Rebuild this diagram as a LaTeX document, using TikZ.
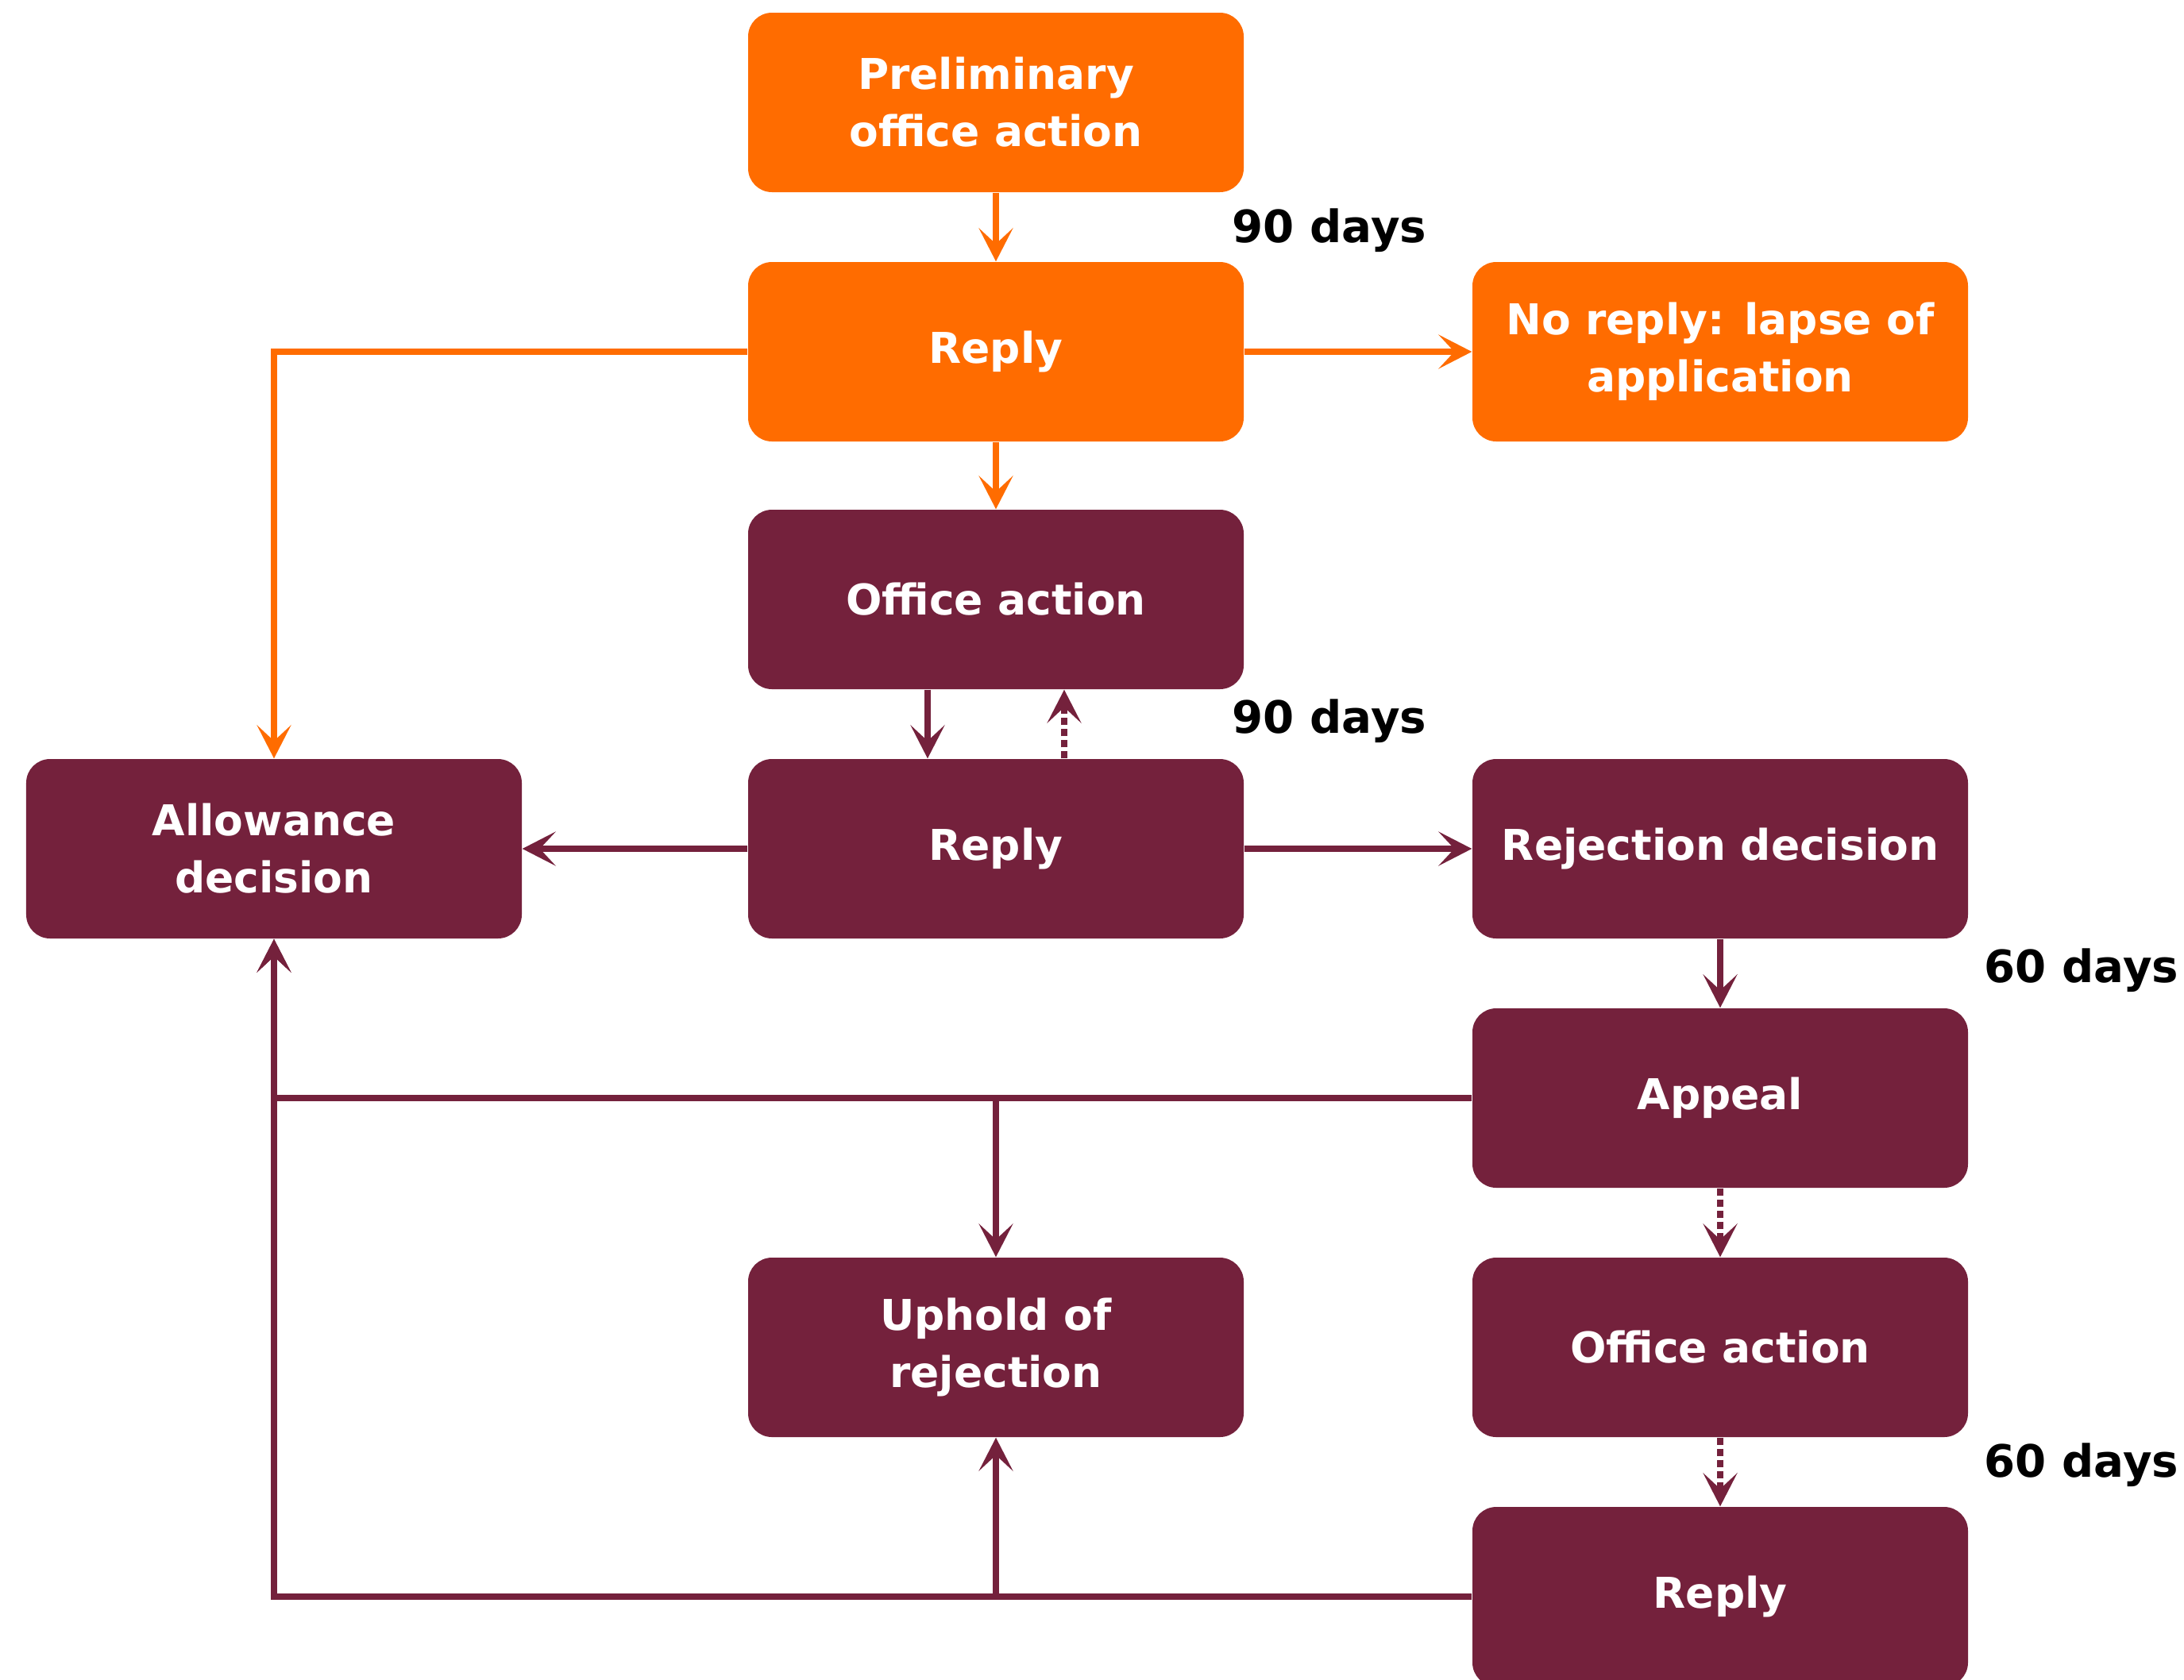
\documentclass[tikz,border=0pt]{standalone}
\usepackage{fontspec}
\setmainfont{DejaVu Sans}
\usetikzlibrary{arrows.meta, positioning}

\definecolor{procorange}{HTML}{FF6C00}
\definecolor{procmaroon}{HTML}{74213C}

\begin{document}
\begin{tikzpicture}[
    stage/.style={rounded corners=0.3cm, minimum width=6.24cm, minimum height=2.26cm,
        inner sep=0pt, align=center, text=white,
        font=\fontsize{15.2pt}{20.5pt}\selectfont\bfseries},
    early/.style={stage, fill=procorange},
    late/.style={stage, fill=procmaroon},
    flow/.style={line width=2.3pt, -{Stealth[length=0.42cm, width=0.43cm, inset=0.2cm]}},
    later/.style={flow, dash pattern=on 0.09cm off 0.05cm},
    deadline/.style={font=\fontsize{16pt}{19pt}\selectfont\bfseries}
]
    \useasboundingbox (0,0) rectangle (27.5,-21.15);

    % Stages
    \node[early] (prelim) at (12.54,-1.29) {Preliminary\\office action};
    \node[early] (rep1) at (12.54,-4.43) {Reply};
    \node[early] (lapse) at (21.66,-4.43) {No reply: lapse of\\application};
    \node[late] (oa1) at (12.54,-7.55) {Office action};
    \node[late] (allow) at (3.45,-10.69) {Allowance\\decision};
    \node[late] (rep2) at (12.54,-10.69) {Reply};
    \node[late] (reject) at (21.66,-10.69) {Rejection decision};
    \node[late] (appeal) at (21.66,-13.83) {Appeal};
    \node[late] (uphold) at (12.54,-16.97) {Uphold of\\rejection};
    \node[late] (oa2) at (21.66,-16.97) {Office action};
    \node[late] (rep3) at (21.66,-20.11) {Reply};

    % Deadlines
    \node[deadline] (d1) at (16.74,-2.90) {90 days};
    \node[deadline] (d2) at (16.74,-9.08) {90 days};
    \node[deadline] (d3) at (26.21,-12.22) {60 days};
    \node[deadline] (d4) at (26.21,-18.45) {60 days};

    % Orange part
    \draw[flow, procorange] (prelim) -- (rep1);
    \draw[flow, procorange] (rep1) -- (lapse);
    \draw[flow, procorange] (rep1) -- (oa1);
    \draw[flow, procorange] (rep1.west) -| (allow.north);

    % Examination
    \draw[flow, procmaroon] ([xshift=-0.86cm]oa1.south) -- ([xshift=-0.86cm]rep2.north);
    \draw[later, procmaroon] ([xshift=0.86cm]rep2.north) -- ([xshift=0.86cm]oa1.south);
    \draw[flow, procmaroon] (rep2) -- (allow);
    \draw[flow, procmaroon] (rep2) -- (reject);

    % Appeal
    \draw[flow, procmaroon] (reject) -- (appeal);
    \draw[later, procmaroon] (appeal) -- (oa2);
    \draw[later, procmaroon] (oa2) -- (rep3);
    \coordinate (upin) at (uphold.north |- appeal.west);
    \coordinate (upout) at (uphold.south |- rep3.west);
    \draw[flow, procmaroon] (appeal.west) -| (allow.south);
    \draw[flow, procmaroon] (upin) -- (uphold.north);
    \draw[flow, procmaroon] (rep3.west) -| (allow.south);
    \draw[flow, procmaroon] (upout) -- (uphold.south);

\end{tikzpicture}
\end{document}
